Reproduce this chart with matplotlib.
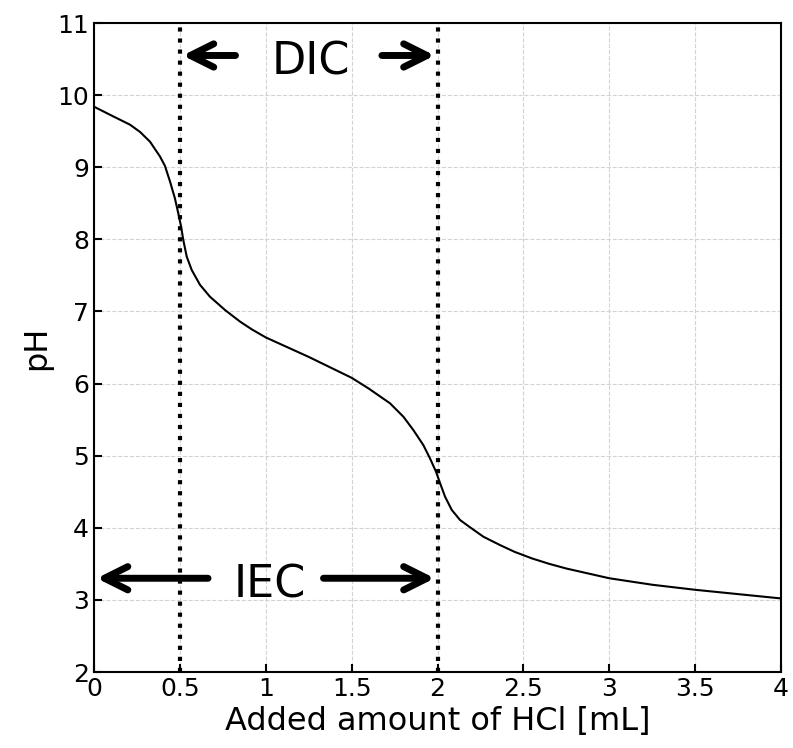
import matplotlib
matplotlib.use("Agg")
import matplotlib.pyplot as plt

# Curva de valoración
hcl_ml = [0.0, 0.1, 0.21, 0.268, 0.326, 0.384, 0.413, 0.443, 0.471, 0.491, 0.507,
          0.52, 0.54, 0.569, 0.617, 0.675, 0.763, 0.85, 0.92, 1.0, 1.25, 1.5, 1.6,
          1.723, 1.801, 1.859, 1.917, 1.956, 1.991, 2.015, 2.044, 2.083, 2.131,
          2.189, 2.267, 2.364, 2.45, 2.55, 2.65, 2.75, 3.0, 3.25, 3.5, 3.75, 4.0]
ph = [9.84, 9.72, 9.59, 9.49, 9.355, 9.15, 9.02, 8.80, 8.57, 8.36, 8.18,
      7.99, 7.76, 7.575, 7.37, 7.205, 7.02, 6.86, 6.75, 6.64, 6.37, 6.08, 5.93,
      5.727, 5.541, 5.356, 5.148, 4.963, 4.778, 4.617, 4.43, 4.247, 4.108,
      4.007, 3.876, 3.76, 3.665, 3.575, 3.50, 3.435, 3.30, 3.21, 3.14, 3.08, 3.02]

# Puntos de equivalencia
eq_points = [0.5, 2.0]

fig = plt.figure(figsize=(7.93, 7.48), dpi=100)
ax = fig.add_axes([0.1185, 0.1016, 0.8665, 0.8676])

ax.grid(True, linestyle="--", color="#d3d3d3", linewidth=0.8)
ax.set_axisbelow(True)

ax.plot(hcl_ml, ph, color="black", lw=1.5)
for xv in eq_points:
    ax.axvline(xv, color="black", linestyle=":", lw=3)

# Flechas DIC (arriba)
arrow = dict(arrowstyle="->", lw=5, color="black", mutation_scale=42)
ax.annotate("", xy=(0.5, 10.55), xytext=(0.84, 10.55), arrowprops=arrow)
ax.annotate("", xy=(2.0, 10.55), xytext=(1.66, 10.55), arrowprops=arrow)
ax.text(1.26, 10.46, "DIC", fontsize=32, ha="center", va="center")

# Flechas IEC (abajo)
ax.annotate("", xy=(0.0, 3.3), xytext=(0.68, 3.3), arrowprops=arrow)
ax.annotate("", xy=(2.0, 3.3), xytext=(1.32, 3.3), arrowprops=arrow)
ax.text(1.025, 3.21, "IEC", fontsize=32, ha="center", va="center")

ax.set_xlim(0, 4)
ax.set_ylim(2, 11)
ax.set_xticks([0, 0.5, 1, 1.5, 2, 2.5, 3, 3.5, 4])
ax.set_xticklabels(["0", "0.5", "1", "1.5", "2", "2.5", "3", "3.5", "4"])
ax.set_yticks(range(2, 12))
ax.tick_params(direction="in", labelsize=18, width=1.5, length=6)
for s in ax.spines.values():
    s.set_linewidth(1.5)

ax.set_xlabel("Added amount of HCl [mL]", fontsize=23)
ax.set_ylabel("pH", fontsize=23)

fig.savefig("out.png", dpi=100)
